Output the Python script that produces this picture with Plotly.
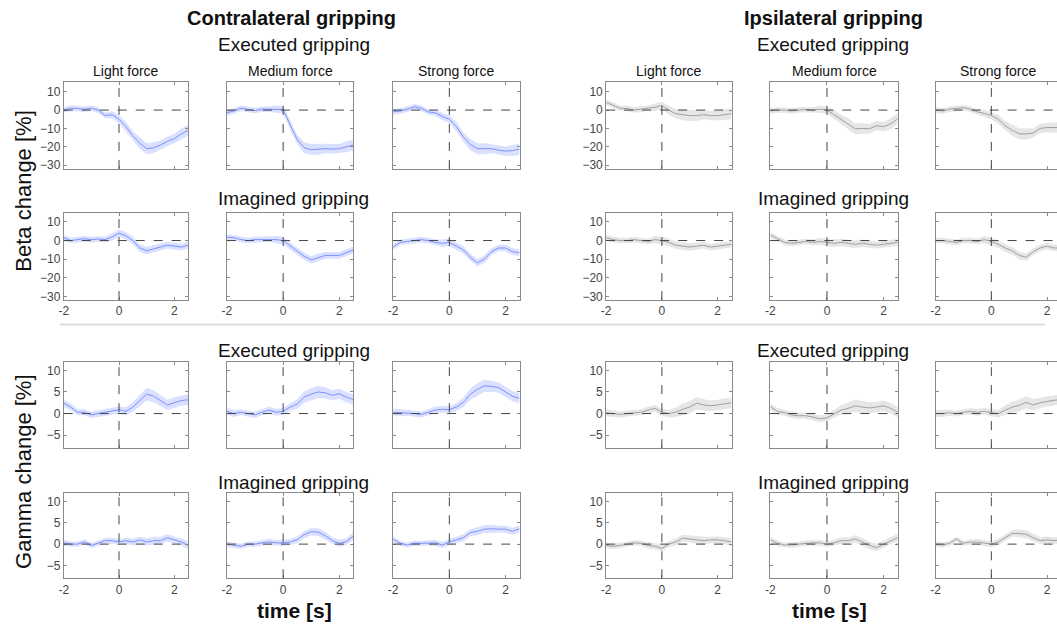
import plotly.graph_objects as go

# ---------------- data ----------------
time_s = [-2, -1.75, -1.5, -1.25, -1, -0.75, -0.5, -0.25, 0, 0.25, 0.5, 0.75, 1.0, 1.25, 1.5, 1.75, 2.0, 2.25, 2.5]

col_titles = ["Light force", "Medium force", "Strong force"]
side_titles = ["Contralateral gripping", "Ipsilateral gripping"]
row_titles = ["Executed gripping", "Imagined gripping", "Executed gripping", "Imagined gripping"]
beta_ticks = [-30, -20, -10, 0, 10]
gamma_ticks = [-5, 0, 5, 10]
time_ticks = [-2, 0, 2]

# Beta, executed, contralateral
beta_exe_con_light = [0, 1, 0.8, 0.5, 1, 0, -3, -2.5, -5, -9, -14, -18, -21, -20.5, -19, -17, -15.5, -13, -11]
beta_exe_con_medium = [-1.4, -0.5, 1, 0.2, -0.3, 0.5, 0.5, 0.5, 0.3, -8, -16, -20.5, -21.5, -21.3, -21, -21.2, -21, -20, -19]
beta_exe_con_strong = [-1, -0.5, 0.5, 1.8, 1, -1, -1.5, -3.5, -5, -9, -14.6, -18.8, -21, -21, -21, -21.8, -22.3, -22, -21.3]
# Beta, imagined, contralateral
beta_ima_con_light = [1.5, 0, 0.5, 1, 0.5, 0.8, 0.5, 2, 4, 2.5, 0, -4, -5.5, -4.5, -3.5, -2.5, -3, -3.5, -2.5]
beta_ima_con_medium = [1.8, 1.5, 0.5, 0, 0.5, 0.5, 0.8, 0.5, 0, -3, -5.7, -8.5, -10.4, -9, -8, -8, -8, -6.5, -5]
beta_ima_con_strong = [-3.5, -1, -0.5, 0, 0.5, 0, -1, -1.5, -1, -3, -5, -9, -12, -10, -6, -4, -4, -6, -6.5]
# Gamma, executed, contralateral
gamma_exe_con_light = [2.4, 1.5, 0.3, 0.3, -0.3, 0, 0.3, 0.5, 0.9, 0.5, 1.5, 3, 4.5, 4, 3, 2, 2.5, 3, 3.2]
gamma_exe_con_medium = [0.5, 0, 0.3, 0, -0.3, 0.3, 0.8, 0.3, 0.5, 1.5, 2.2, 3.8, 4.5, 5, 4.8, 4.2, 4.6, 3.8, 3.2]
gamma_exe_con_strong = [0.3, 0.2, 0.2, 0, -0.2, 0.3, 0.8, 1, 0.9, 1.5, 2.6, 4.5, 5.6, 6.4, 6.3, 6, 5, 4, 3.5]
# Gamma, imagined, contralateral
gamma_ima_con_light = [0.3, 0, 0, 0.5, -0.3, 0.2, 0.8, 0.8, 0.5, 0.8, 0.5, 1, 0.5, 0.8, 0.8, 1.5, 1, 0.5, -0.3]
gamma_ima_con_medium = [0, -0.3, -0.5, 0, 0, 0.3, 0.5, 0.3, 0.3, 0.5, 1, 2.2, 2.9, 2.8, 2, 0.8, 0.2, 0.6, 1.9]
gamma_ima_con_strong = [1.1, 0.2, -0.2, 0.2, 0.2, 0.3, 0.3, -0.2, 0.5, 1, 1.5, 2.7, 3, 3.5, 3.6, 3.5, 3.5, 3, 3.6]
# Beta, executed, ipsilateral
beta_exe_ips_light = [4.2, 2.5, 1, 0.8, 0, 0.5, 1, 1.5, 2.5, 0, -2, -2.5, -3, -3, -2.5, -3, -3, -2.5, -2]
beta_exe_ips_medium = [-0.5, 0, 0, -0.5, 0, 0.3, 0, 0.5, 0, -2.5, -5, -7.5, -10.2, -10, -10.2, -8.5, -9, -7.5, -4.7]
beta_exe_ips_strong = [0, -0.5, 0.5, 1, 1.3, 0.5, -1, -1.8, -3, -5, -8.5, -11, -12.9, -13, -12.5, -10, -9.5, -9.5, -9.5]
# Beta, imagined, ipsilateral
beta_ima_ips_light = [1.5, 0.5, 0, 0, 0.5, 0, -0.5, 0.5, 0, -1, -2.5, -3, -3.5, -3, -2.5, -3.5, -3, -2.5, -2]
beta_ima_ips_medium = [3, 1, -1, -1.5, -1, -0.5, -1, -0.5, -1, -1.5, -1, -1.5, -2, -1.5, -2, -2.5, -2, -1.5, -1]
beta_ima_ips_strong = [0, 0, -0.5, -1, 0, 0, -0.5, 0.5, -0.5, -2, -4, -5.5, -8, -9, -6, -4, -3, -4, -4]
# Gamma, executed, ipsilateral
gamma_exe_ips_light = [0.2, 0, -0.2, 0, 0.2, 0.3, 0.8, 1.2, 0.3, 0, 0.3, 1, 1.5, 2.4, 2, 1.8, 2, 2.2, 2.5]
gamma_exe_ips_medium = [1.6, 0.5, 0.2, -0.3, -0.5, -0.5, -0.8, -1.2, -1, 0, 0.8, 1.2, 1.8, 1.5, 1.3, 1.5, 1.8, 1.2, 0.3]
gamma_exe_ips_strong = [0, 0, 0.2, 0, 0.3, 0.5, 0.3, 0.5, 0.2, 0, 0.8, 1.5, 1.9, 2.6, 2, 2.5, 2.8, 3, 3.3]
# Gamma, imagined, ipsilateral
gamma_ima_ips_light = [-0.3, -0.5, -0.3, 0, 0.3, 0.2, -0.3, -0.5, -1, 0, 0.5, 1.4, 1.2, 1, 0.8, 1, 1, 0.8, 0.5]
gamma_ima_ips_medium = [1, 0.2, -0.2, -0.2, 0, 0.2, 0.3, 0.3, 0, 0.3, 0.8, 0.8, 1.2, 0.5, -0.3, -0.8, 0, 0.8, 1.5]
gamma_ima_ips_strong = [0, -0.2, 0.2, 1.2, 0.2, 0.5, 0.5, 0.3, 0, 0.5, 1.5, 2.5, 2.5, 2.3, 1.5, 0.8, 1, 0.8, 1]

# error-band half widths
beta_exe_err = [1.5, 1.5, 1.5, 1.5, 1.5, 1.5, 1.5, 2, 2, 2.5, 2.5, 3, 3, 3, 2.5, 2.5, 2.5, 3, 3]
beta_ima_err = [1.5, 1.5, 1.5, 1.5, 1.5, 1.5, 1.5, 2, 2, 2, 2, 2, 2, 2, 1.8, 1.8, 1.8, 1.8, 1.8]
gamma_exe_err = [0.8, 0.8, 0.7, 0.7, 0.7, 0.7, 0.8, 0.8, 0.8, 0.9, 1.1, 1.3, 1.4, 1.4, 1.3, 1.2, 1.2, 1.2, 1.2]
gamma_ima_err = [0.7, 0.6, 0.6, 0.6, 0.6, 0.6, 0.7, 0.7, 0.7, 0.7, 0.8, 0.8, 0.9, 0.9, 0.9, 0.8, 0.8, 0.8, 0.9]

# ---------------- layout helpers ----------------
W, H = 1057, 630
col_px = [(59, 184), (223, 350), (390, 517), (604, 730), (769, 897), (935, 1061)]
row_px = [(83, 170), (214, 302), (364, 451), (496, 582)]

panels = [
    [beta_exe_con_light, beta_exe_con_medium, beta_exe_con_strong,
     beta_exe_ips_light, beta_exe_ips_medium, beta_exe_ips_strong],
    [beta_ima_con_light, beta_ima_con_medium, beta_ima_con_strong,
     beta_ima_ips_light, beta_ima_ips_medium, beta_ima_ips_strong],
    [gamma_exe_con_light, gamma_exe_con_medium, gamma_exe_con_strong,
     gamma_exe_ips_light, gamma_exe_ips_medium, gamma_exe_ips_strong],
    [gamma_ima_con_light, gamma_ima_con_medium, gamma_ima_con_strong,
     gamma_ima_ips_light, gamma_ima_ips_medium, gamma_ima_ips_strong],
]
row_err = [beta_exe_err, beta_ima_err, gamma_exe_err, gamma_ima_err]
row_yrange = [[-32, 15], [-32, 15], [-8, 12], [-8, 12]]
row_ticks = [beta_ticks, beta_ticks, gamma_ticks, gamma_ticks]

FONT = "Arial, Liberation Sans, sans-serif"
FRAME = "#8a8a8a"
BLUE_LINE = "rgba(125,145,250,1)"
BLUE_FILL = "rgba(205,214,255,0.75)"
GRAY_LINE = "rgba(160,160,160,1)"
GRAY_FILL = "rgba(222,222,222,0.75)"
TICK_COL = "#444"

fig = go.Figure()
layout = {}
shapes = []
annotations = []

for r in range(4):
    for c in range(6):
        n = r * 6 + c + 1
        xs = "" if n == 1 else str(n)
        xa, ya = "x" + xs, "y" + xs
        mean = panels[r][c]
        err = row_err[r]
        upper = [m + e for m, e in zip(mean, err)]
        lower = [m - e for m, e in zip(mean, err)]
        line_col = BLUE_LINE if c < 3 else GRAY_LINE
        fill_col = BLUE_FILL if c < 3 else GRAY_FILL
        fig.add_trace(go.Scatter(x=time_s, y=upper, mode="lines", line=dict(width=0, color=fill_col),
                                 hoverinfo="skip", showlegend=False, xaxis=xa, yaxis=ya))
        fig.add_trace(go.Scatter(x=time_s, y=lower, mode="lines", line=dict(width=0, color=fill_col),
                                 fill="tonexty", fillcolor=fill_col, hoverinfo="skip",
                                 showlegend=False, xaxis=xa, yaxis=ya))
        fig.add_trace(go.Scatter(x=time_s, y=mean, mode="lines", line=dict(width=1, color=line_col),
                                 showlegend=False, xaxis=xa, yaxis=ya))

        x0p, x1p = col_px[c]
        y0p, y1p = row_px[r]
        px_per_unit = (x1p - x0p) / 4.5
        x1c = min(x1p, W)
        xr = [-2, -2 + (x1c - x0p) / px_per_unit]
        dom_x = [x0p / W, min(x1p, W) / W]
        dom_y = [1 - y1p / H, 1 - y0p / H]
        layout["xaxis" + xs] = dict(
            domain=dom_x, anchor=ya, range=xr, tickvals=time_ticks,
            ticktext=[str(v) for v in time_ticks], showticklabels=(r in (1, 3)),
            ticks="inside", ticklen=3, tickcolor=FRAME, showline=True, linecolor=FRAME,
            linewidth=1, mirror="ticks", showgrid=False, zeroline=False,
            tickfont=dict(family=FONT, size=12, color=TICK_COL), fixedrange=True)
        layout["yaxis" + xs] = dict(
            domain=dom_y, anchor=xa, range=row_yrange[r], tickvals=row_ticks[r],
            showticklabels=(c in (0, 3)), ticks="inside", ticklen=3, tickcolor=FRAME,
            showline=True, linecolor=FRAME, linewidth=1,
            mirror=("ticks" if c < 5 else False), showgrid=False, zeroline=False,
            tickfont=dict(family=FONT, size=12, color=TICK_COL), fixedrange=True)
        # dashed reference lines
        shapes.append(dict(type="line", xref=xa + " domain", yref=ya, x0=0, x1=1, y0=0, y1=0,
                           line=dict(color="#444", width=1, dash="dash"), layer="above"))
        shapes.append(dict(type="line", xref=xa, yref=ya + " domain", x0=0, x1=0, y0=0, y1=1,
                           line=dict(color="#444", width=1, dash="dash"), layer="above"))


def ann(text, xp, yp, size, bold=False, angle=0, color="#111"):
    t = "<b>" + text + "</b>" if bold else text
    annotations.append(dict(text=t, x=xp / W, y=1 - yp / H, xref="paper", yref="paper",
                            xanchor="center", yanchor="middle", showarrow=False, textangle=angle,
                            font=dict(family=FONT, size=size, color=color)))


# group titles
ann(side_titles[0], 288, 18, 20, bold=True)
ann(side_titles[1], 832, 18, 20, bold=True)
# row titles
row_title_y = [45, 200, 353, 486]
for r in range(4):
    ann(row_titles[r], 290, row_title_y[r], 19)
    ann(row_titles[r], 832, row_title_y[r], 19)
# force titles
for c in range(6):
    ann(col_titles[c % 3], (col_px[c][0] + col_px[c][1]) / 2, 71, 14)
# y labels
ann("Beta change [%]", 19, 192, 22, angle=-90)
ann("Gamma change [%]", 19, 475, 22, angle=-90)
# x labels
ann("time [s]", 291, 614, 21, bold=True)
ann("time [s]", 828, 614, 21, bold=True)

# separator line
shapes.append(dict(type="line", xref="paper", yref="paper", x0=55 / W, x1=1045 / W,
                   y0=1 - 326.5 / H, y1=1 - 326.5 / H, line=dict(color="#dddddd", width=2)))

fig.update_layout(**layout)
fig.update_layout(width=W, height=H, margin=dict(l=0, r=0, t=0, b=0),
                  plot_bgcolor="white", paper_bgcolor="white",
                  shapes=shapes, annotations=annotations, showlegend=False,
                  font=dict(family=FONT))

fig.write_html("out.html")
